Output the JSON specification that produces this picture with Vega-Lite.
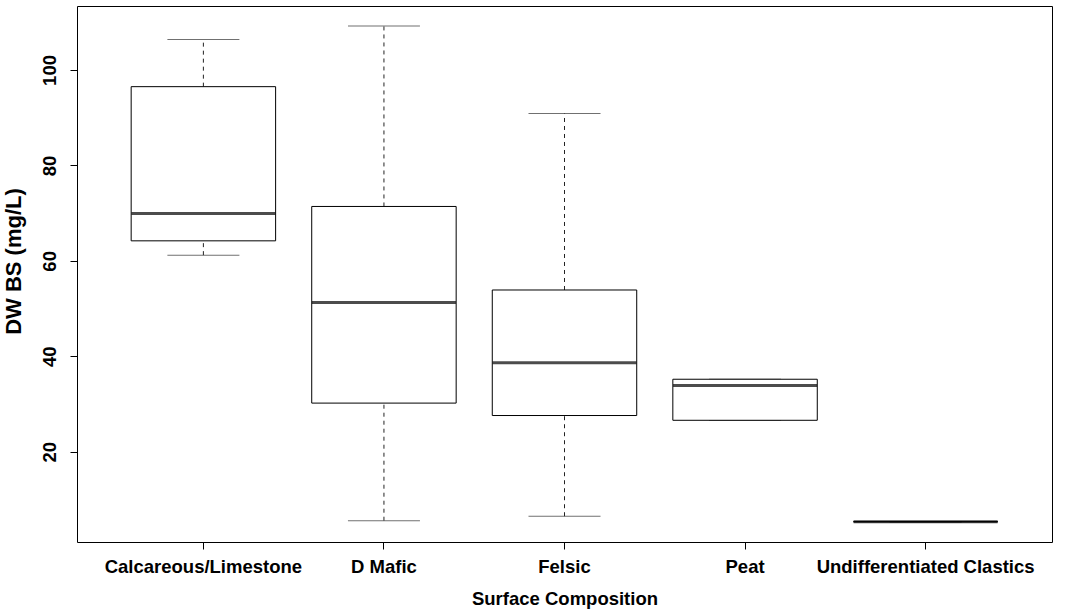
{
  "$schema": "https://vega.github.io/schema/vega-lite/v6.json",
  "width": 975,
  "height": 536,
  "autosize": {"type": "none"},
  "padding": {"left": 77, "top": 6, "right": 23, "bottom": 70},
  "background": "white",
  "config": {
    "font": "Liberation Sans",
    "view": {"stroke": "black", "strokeWidth": 1},
    "axis": {
      "grid": false,
      "domain": false,
      "tickColor": "black",
      "tickSize": 7,
      "labelColor": "black",
      "titleColor": "black",
      "labelFontSize": 18.5,
      "labelFontWeight": "bold",
      "titleFontSize": 18.5,
      "titleFontWeight": "bold",
      "labelFont": "Liberation Sans",
      "titleFont": "Liberation Sans",
      "labelLimit": 0
    }
  },
  "data": {
    "values": [
      {"cat": "Calcareous/Limestone", "min": 61.2, "q1": 64.2, "median": 69.9, "q3": 96.5, "max": 106.4},
      {"cat": "D Mafic", "min": 5.56, "q1": 30.2, "median": 51.3, "q3": 71.4, "max": 109.2},
      {"cat": "Felsic", "min": 6.5, "q1": 27.6, "median": 38.65, "q3": 53.9, "max": 90.9},
      {"cat": "Peat", "min": 26.6, "q1": 26.6, "median": 33.9, "q3": 35.2, "max": 35.2},
      {"cat": "Undifferentiated Clastics", "min": 5.35, "q1": 5.35, "median": 5.35, "q3": 5.35, "max": 5.35}
    ]
  },
  "encoding": {
    "x": {
      "field": "cat",
      "type": "nominal",
      "sort": null,
      "scale": {"paddingInner": 0, "paddingOuter": 0.2},
      "axis": {"title": "Surface Composition", "labelAngle": 0, "labelPadding": 8, "titlePadding": 14}
    }
  },
  "layer": [
    {
      "mark": {"type": "rule", "strokeDash": [4, 4], "color": "#222", "strokeWidth": 1},
      "encoding": {
        "y": {"field": "min", "type": "quantitative", "scale": {"domain": [1.1, 113.4], "nice": false, "zero": false},
          "axis": {"title": "DW BS (mg/L)", "titleFontSize": 22, "titleY": 255, "values": [20, 40, 60, 80, 100], "labelAngle": -90, "labelAlign": "center", "labelBaseline": "bottom", "labelPadding": 11, "titlePadding": 15}},
        "y2": {"field": "q1"}
      }
    },
    {
      "mark": {"type": "rule", "strokeDash": [4, 4], "color": "#222", "strokeWidth": 1},
      "encoding": {
        "y": {"field": "q3", "type": "quantitative"},
        "y2": {"field": "max"}
      }
    },
    {
      "mark": {"type": "tick", "size": 72, "thickness": 1, "color": "#333"},
      "encoding": {"y": {"field": "min", "type": "quantitative"}}
    },
    {
      "mark": {"type": "tick", "size": 72, "thickness": 1, "color": "#333"},
      "encoding": {"y": {"field": "max", "type": "quantitative"}}
    },
    {
      "mark": {"type": "bar", "width": {"band": 0.8}, "fill": "white", "stroke": "black", "strokeWidth": 1},
      "encoding": {
        "y": {"field": "q1", "type": "quantitative"},
        "y2": {"field": "q3"}
      }
    },
    {
      "mark": {"type": "tick", "size": 144, "thickness": 3, "color": "black"},
      "encoding": {"y": {"field": "median", "type": "quantitative"}}
    }
  ]
}
